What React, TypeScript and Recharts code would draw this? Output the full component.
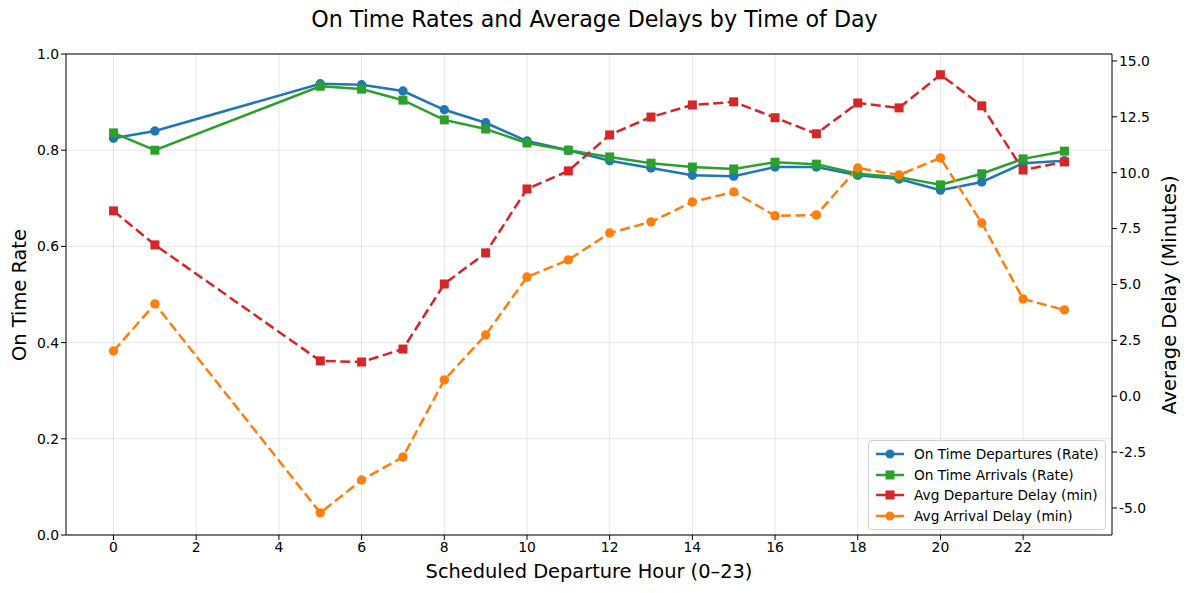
import React from "react";
import {
  LineChart,
  Line,
  XAxis,
  YAxis,
  CartesianGrid,
  ReferenceLine,
} from "recharts";

const hours = [0, 1, 5, 6, 7, 8, 9, 10, 11, 12, 13, 14, 15, 16, 17, 18, 19, 20, 21, 22, 23];
const onTimeDep = [0.825, 0.84, 0.938, 0.936, 0.923, 0.884, 0.857, 0.819, 0.8, 0.778, 0.763, 0.748, 0.746, 0.765, 0.765, 0.748, 0.74, 0.717, 0.734, 0.773, 0.778];
const onTimeArr = [0.836, 0.8, 0.933, 0.927, 0.904, 0.863, 0.844, 0.815, 0.8, 0.786, 0.773, 0.765, 0.761, 0.775, 0.771, 0.751, 0.744, 0.728, 0.751, 0.782, 0.798];
const depDelay = [8.29, 6.77, 1.58, 1.53, 2.11, 5.02, 6.41, 9.27, 10.08, 11.69, 12.49, 13.03, 13.17, 12.46, 11.74, 13.12, 12.9, 14.38, 12.99, 10.12, 10.48];
const arrDelay = [2.02, 4.13, -5.22, -3.75, -2.72, 0.73, 2.74, 5.33, 6.1, 7.3, 7.8, 8.69, 9.14, 8.07, 8.11, 10.21, 9.9, 10.66, 7.75, 4.35, 3.86];

const xTicks = [0, 2, 4, 6, 8, 10, 12, 14, 16, 18, 20, 22];
const leftTicks = [0, 0.2, 0.4, 0.6, 0.8, 1.0];
const rightTicks = [-5, -2.5, 0, 2.5, 5, 7.5, 10, 12.5, 15];

const data = hours.map((h, i) => ({
  hour: h,
  dep: onTimeDep[i],
  arr: onTimeArr[i],
  depDelay: depDelay[i],
  arrDelay: arrDelay[i],
}));

const FONT = "'DejaVu Sans', sans-serif";
const BLUE = "#1f77b4";
const GREEN = "#2ca02c";
const RED = "#d62728";
const ORANGE = "#ff7f0e";

const series = [
  { name: "On Time Departures (Rate)", color: BLUE, shape: "circle" },
  { name: "On Time Arrivals (Rate)", color: GREEN, shape: "square" },
  { name: "Avg Departure Delay (min)", color: RED, shape: "square" },
  { name: "Avg Arrival Delay (min)", color: ORANGE, shape: "circle" },
];

const squareDot = (color: string) => (props: any) => {
  const { cx, cy, index } = props;
  if (cx == null || cy == null) return <g key={index} />;
  return <rect key={index} x={cx - 4.5} y={cy - 4.5} width={9} height={9} fill={color} />;
};

const circleDot = (color: string) => (props: any) => {
  const { cx, cy, index } = props;
  if (cx == null || cy == null) return <g key={index} />;
  return <circle key={index} cx={cx} cy={cy} r={4.7} fill={color} />;
};

const tickStyle = { fontSize: 13.9, fill: "#000", fontFamily: FONT };

function LegendBox() {
  return (
    <div
      style={{
        position: "absolute",
        left: 868,
        top: 440,
        border: "1px solid #d0d0d0",
        borderRadius: 4,
        background: "rgba(255,255,255,0.85)",
        padding: "3px 6px",
        fontFamily: FONT,
        fontSize: 13.7,
        color: "#000",
        width: 224,
        whiteSpace: "nowrap",
      }}
    >
      {series.map((s) => (
        <div key={s.name} style={{ display: "flex", alignItems: "center", height: 20.6 }}>
          <svg width={30} height={12} style={{ marginRight: 9 }}>
            <line x1={1} y1={6} x2={29} y2={6} stroke={s.color} strokeWidth={2.5} />
            {s.shape === "circle" ? (
              <circle cx={15} cy={6} r={4.5} fill={s.color} />
            ) : (
              <rect x={10.5} y={1.5} width={9} height={9} fill={s.color} />
            )}
          </svg>
          <span>{s.name}</span>
        </div>
      ))}
    </div>
  );
}

export default function App() {
  return (
    <div style={{ position: "relative", width: 1189, height: 593, margin: -8, background: "#fff" }}>
      <LineChart
        width={1189}
        height={593}
        data={data}
        margin={{ top: 54, right: 0, bottom: 0, left: 0 }}
        style={{ position: "absolute", left: 0, top: 0 }}
      >
        <CartesianGrid
          yAxisId="left"
          stroke="#000"
          strokeOpacity={0.1}
          strokeWidth={1}
          horizontalValues={leftTicks}
          verticalValues={xTicks}
        />
        <XAxis
          dataKey="hour"
          type="number"
          domain={[-1.15, 24.15]}
          ticks={xTicks}
          allowDataOverflow
          height={58}
          tick={tickStyle}
          tickLine={{ stroke: "#000" }}
          axisLine={{ stroke: "#000" }}
          tickSize={5}
        />
        <YAxis
          yAxisId="left"
          domain={[0, 1]}
          ticks={leftTicks}
          width={66}
          tick={tickStyle}
          tickLine={{ stroke: "#000" }}
          axisLine={{ stroke: "#000" }}
          tickSize={5}
          tickFormatter={(v: number) => v.toFixed(1)}
        />
        <YAxis
          yAxisId="right"
          orientation="right"
          domain={[-6.21, 15.31]}
          ticks={rightTicks}
          allowDataOverflow
          width={77}
          tick={tickStyle}
          tickLine={{ stroke: "#000" }}
          axisLine={{ stroke: "#000" }}
          tickSize={5}
          tickFormatter={(v: number) => v.toFixed(1)}
        />
        <ReferenceLine yAxisId="left" y={1} stroke="#000" strokeWidth={1} />
        <Line
          yAxisId="left"
          dataKey="dep"
          name={series[0].name}
          stroke={BLUE}
          strokeWidth={2.5}
          dot={circleDot(BLUE)}
          activeDot={false}
          isAnimationActive={false}
        />
        <Line
          yAxisId="left"
          dataKey="arr"
          name={series[1].name}
          stroke={GREEN}
          strokeWidth={2.5}
          dot={squareDot(GREEN)}
          activeDot={false}
          isAnimationActive={false}
        />
        <Line
          yAxisId="right"
          dataKey="depDelay"
          name={series[2].name}
          stroke={RED}
          strokeWidth={2.5}
          strokeDasharray="10 4.5"
          dot={squareDot(RED)}
          activeDot={false}
          isAnimationActive={false}
        />
        <Line
          yAxisId="right"
          dataKey="arrDelay"
          name={series[3].name}
          stroke={ORANGE}
          strokeWidth={2.5}
          strokeDasharray="10 4.5"
          dot={circleDot(ORANGE)}
          activeDot={false}
          isAnimationActive={false}
        />
      </LineChart>
      <div
        style={{
          position: "absolute",
          left: 0,
          width: 1189,
          top: 6,
          textAlign: "center",
          fontFamily: FONT,
          fontSize: 22.2,
          color: "#000",
        }}
      >
        On Time Rates and Average Delays by Time of Day
      </div>
      <div
        style={{
          position: "absolute",
          left: 66,
          width: 1046,
          top: 560,
          textAlign: "center",
          fontFamily: FONT,
          fontSize: 19.4,
          color: "#000",
        }}
      >
        Scheduled Departure Hour (0–23)
      </div>
      <div
        style={{
          position: "absolute",
          left: 19,
          top: 295,
          transform: "translate(-50%, -50%) rotate(-90deg)",
          whiteSpace: "nowrap",
          fontFamily: FONT,
          fontSize: 19.4,
          color: "#000",
        }}
      >
        On Time Rate
      </div>
      <div
        style={{
          position: "absolute",
          left: 1169,
          top: 295,
          transform: "translate(-50%, -50%) rotate(-90deg)",
          whiteSpace: "nowrap",
          fontFamily: FONT,
          fontSize: 19.4,
          color: "#000",
        }}
      >
        Average Delay (Minutes)
      </div>
      <LegendBox />
    </div>
  );
}
